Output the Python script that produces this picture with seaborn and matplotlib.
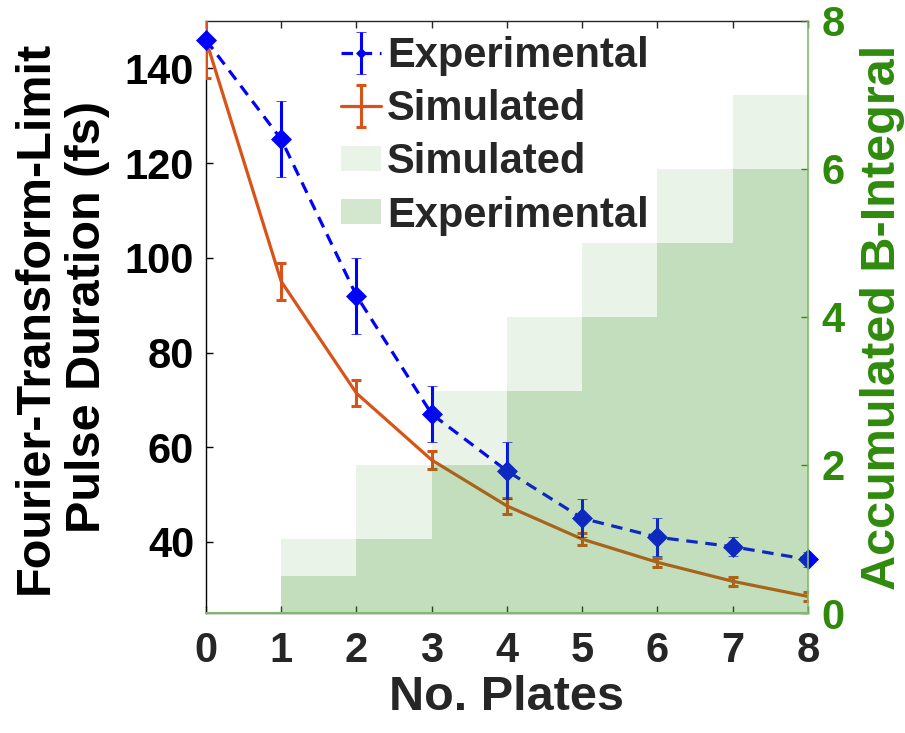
import matplotlib
matplotlib.use("Agg")
import matplotlib.pyplot as plt
from matplotlib.legend_handler import HandlerErrorbar
import seaborn as sns
import numpy as np

# Pulse duration vs number of plates
plates = [0, 1, 2, 3, 4, 5, 6, 7, 8]
exp_duration = [146, 125, 92, 67, 55, 45, 41, 39, 36.3]
exp_err = [1, 8, 8, 6, 6, 4, 4, 2, 1.5]
sim_duration = [146, 95, 71.4, 57.3, 47.6, 40.6, 35.7, 31.7, 28.5]
sim_err = [8, 4, 2.7, 2, 1.6, 1.2, 1.0, 0.9, 1.0]

# Accumulated B-integral, one step per plate interval
b_left_edges = [1, 2, 3, 4, 5, 6, 7]
b_simulated = [1, 2, 3, 4, 5, 6, 7]
b_experimental = [0.5, 1, 2, 3, 4, 5, 6]

x_ticks = [0, 1, 2, 3, 4, 5, 6, 7, 8]
left_ticks = [40, 60, 80, 100, 120, 140]
right_ticks = [0, 2, 4, 6, 8]

sns.set_theme(style="white")
plt.rcParams["font.family"] = ["Liberation Sans", "DejaVu Sans"]
plt.rcParams["font.weight"] = "bold"

BLUE = "#0000ff"
ORANGE = "#d95319"
GREEN_TXT = "#2f8a0c"
GREEN_BASE = (0.2, 0.57, 0.12)
TICK_FS = 30
LABEL_FS = 35

fig = plt.figure(figsize=(9.05, 7.33), dpi=100)
ax = fig.add_axes([0.2276, 0.1637, 0.6652, 0.8077])

sim_h = ax.errorbar(plates, sim_duration, yerr=sim_err, color=ORANGE, lw=2.3,
                    elinewidth=2.2, capsize=3.5, capthick=2.2, label="Simulated",
                    zorder=3)
exp_h = ax.errorbar(plates, exp_duration, yerr=exp_err, color=BLUE, lw=2.3,
                    ls=(0, (3.6, 2.4)), marker="D", ms=10, mew=0.5, elinewidth=2.2,
                    capsize=3.5, capthick=2.2, label="Experimental", zorder=4)
exp_h.lines[0].set_clip_on(False)

ax.set_xlim(0, 8)
ax.set_ylim(25, 150)
ax.set_xticks(x_ticks)
ax.set_yticks(left_ticks)
ax.tick_params(axis="x", direction="in", length=5, width=1, colors="#262626",
               labelsize=TICK_FS, pad=13, top=True, bottom=True)
ax.tick_params(axis="y", direction="in", length=5, width=1, colors="black",
               labelsize=TICK_FS, pad=8.5, left=True)
for lbl in ax.get_xticklabels() + ax.get_yticklabels():
    lbl.set_fontweight("bold")
ax.set_xlabel("No. Plates", fontsize=LABEL_FS, fontweight="bold", color="#262626",
              labelpad=3)
ax.set_ylabel("Fourier-Transform-Limit\nPulse Duration (fs)", fontsize=LABEL_FS,
              fontweight="bold", color="black", labelpad=11, linespacing=1.2)
for side in ["top", "bottom"]:
    ax.spines[side].set_color("#262626")
    ax.spines[side].set_linewidth(1)
ax.spines["left"].set_color("black")
ax.spines["left"].set_linewidth(1)
ax.spines["right"].set_visible(False)

# B-integral on the right axis, drawn on top with transparency
ax2 = ax.twinx()
light = ax2.bar(b_left_edges, b_simulated, width=1, align="edge",
                color=GREEN_BASE, alpha=0.1, linewidth=0, label="Simulated")
dark = ax2.bar(b_left_edges, b_experimental, width=1, align="edge",
               color=GREEN_BASE, alpha=0.21, linewidth=0, label="Experimental")
ax2.set_ylim(0, 8)
ax2.set_yticks(right_ticks)
ax2.tick_params(axis="y", direction="in", length=5, width=1, colors=GREEN_TXT,
                labelsize=TICK_FS, pad=10, right=True)
for lbl in ax2.get_yticklabels():
    lbl.set_fontweight("bold")
ax2.set_ylabel("Accumulated B-Integral", fontsize=LABEL_FS, fontweight="bold",
               color=GREEN_TXT, labelpad=11)
ax2.spines["right"].set_color("#7dbb6a")
ax2.spines["right"].set_linewidth(1.2)
ax2.spines["bottom"].set_color("#7dbb6a")
ax2.spines["bottom"].set_linewidth(1.5)
for side in ["top", "left"]:
    ax2.spines[side].set_visible(False)


def small_legend_marker(legend_artist, orig):
    legend_artist.update_from(orig)
    if hasattr(legend_artist, "get_marker") and legend_artist.get_marker() == "D":
        legend_artist.set_markersize(5.5)


leg = ax2.legend([exp_h, sim_h, light, dark],
                 ["Experimental", "Simulated", "Simulated", "Experimental"],
                 loc="upper left", bbox_to_anchor=(0.2, 1.0), frameon=False,
                 prop={"size": TICK_FS, "weight": "bold"}, handlelength=0.95,
                 handleheight=0.55, handletextpad=0.15, labelspacing=0.32,
                 borderaxespad=0.05, borderpad=0.3,
                 handler_map={exp_h: HandlerErrorbar(update_func=small_legend_marker)})

fig.savefig("out.png", dpi=100)
